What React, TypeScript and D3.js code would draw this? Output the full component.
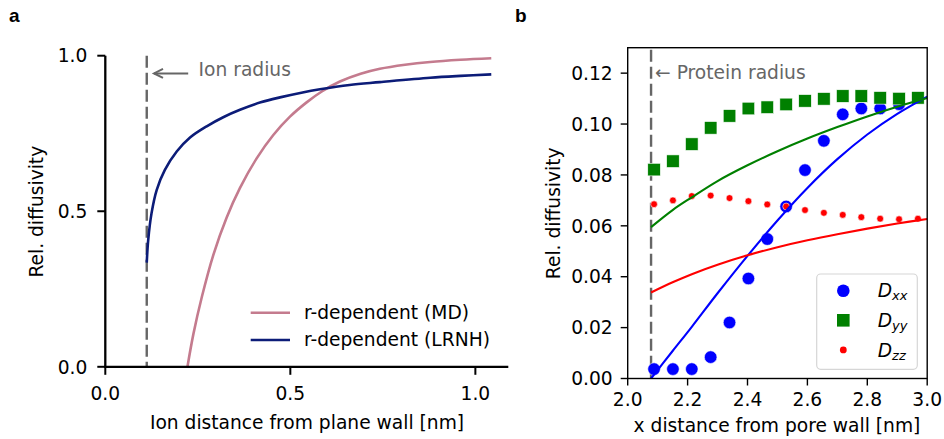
import React from "react";
import * as d3 from "d3";

// ---------- Panel a data ----------
const ionRadius = 0.112;
const mdX = [0.222, 0.238, 0.261, 0.292, 0.328, 0.364, 0.409, 0.454, 0.499, 0.544, 0.585, 0.634, 0.69, 0.742, 0.81, 0.878, 0.96, 1.043];
const mdY = [0, 0.105, 0.225, 0.36, 0.48, 0.575, 0.67, 0.745, 0.804, 0.85, 0.885, 0.917, 0.942, 0.958, 0.971, 0.98, 0.987, 0.992];
const lrnhX = [0.112, 0.116, 0.125, 0.139, 0.161, 0.193, 0.229, 0.274, 0.32, 0.364, 0.42, 0.472, 0.53, 0.58, 0.66, 0.742, 0.878, 0.96, 1.043];
const lrnhY = [0.335, 0.408, 0.494, 0.569, 0.633, 0.692, 0.737, 0.773, 0.803, 0.826, 0.85, 0.866, 0.881, 0.892, 0.906, 0.915, 0.929, 0.935, 0.94];
const aXTicks = [0, 0.5, 1.0];
const aYTicks = [0, 0.5, 1.0];
const aLegend = ["r-dependent (MD)", "r-dependent (LRNH)"];

// ---------- Panel b data ----------
const proteinRadius = 2.078;
const ptsX = [2.088, 2.151, 2.214, 2.277, 2.34, 2.403, 2.466, 2.529, 2.592, 2.655, 2.718, 2.78, 2.843, 2.906, 2.969];
const dxx = [0.0037, 0.0037, 0.0037, 0.0084, 0.022, 0.0393, 0.0548, 0.0676, 0.0819, 0.0934, 0.1038, 0.1061, 0.1061, 0.1078];
const dyy = [0.0821, 0.0854, 0.0921, 0.0985, 0.1032, 0.1061, 0.1066, 0.1077, 0.1091, 0.1099, 0.111, 0.111, 0.1103, 0.11, 0.1103];
const dzz = [0.0685, 0.07, 0.0717, 0.0719, 0.0709, 0.0697, 0.0684, 0.0676, 0.0662, 0.0651, 0.0643, 0.0634, 0.0628, 0.0626, 0.0628];
const fitX = [2.078, 2.15, 2.214, 2.3, 2.4, 2.5, 2.6, 2.7, 2.8, 2.9, 3.0];
const fitXX = [0.0, 0.0108, 0.0203, 0.0335, 0.0482, 0.0621, 0.0749, 0.0862, 0.0959, 0.104, 0.1108];
const fitYY = [0.0595, 0.0662, 0.0712, 0.0776, 0.0838, 0.0893, 0.0943, 0.0988, 0.103, 0.1068, 0.1102];
const fitZZ = [0.0338, 0.0378, 0.041, 0.0447, 0.0484, 0.0516, 0.0543, 0.0567, 0.0589, 0.0609, 0.0627];
const bXTicks = [2.0, 2.2, 2.4, 2.6, 2.8, 3.0];
const bYTicks = [0, 0.02, 0.04, 0.06, 0.08, 0.1, 0.12];
const bLegend = [
  { sub: "xx", color: "#0000ff", shape: "circle" },
  { sub: "yy", color: "#008000", shape: "square" },
  { sub: "zz", color: "#ff0000", shape: "dot" },
];

const FONT = "DejaVu Sans, sans-serif";
const FS = 18.67;
const PINK = "#c47b8e";
const NAVY = "#0c1c78";
const GRAY = "#666666";

export default function App() {
  // Panel a scales
  const xA = d3.scaleLinear().domain([0, 1.089]).range([105.3, 508.3]);
  const yA = d3.scaleLinear().domain([0, 1]).range([366.8, 55.7]);
  const lineA = d3
    .line<[number, number]>()
    .x((d) => xA(d[0]))
    .y((d) => yA(d[1]))
    .curve(d3.curveCatmullRom.alpha(0.5));
  const mdPts = mdX.map((x, i) => [x, mdY[i]] as [number, number]);
  const lrPts = lrnhX.map((x, i) => [x, lrnhY[i]] as [number, number]);

  // Panel b scales
  const xB = d3.scaleLinear().domain([2, 3]).range([627.7, 927.2]);
  const yB = d3.scaleLinear().domain([0, 0.13]).range([378.5, 47.7]);
  const lineB = d3
    .line<[number, number]>()
    .x((d) => xB(d[0]))
    .y((d) => yB(d[1]))
    .curve(d3.curveCatmullRom.alpha(0.5));
  const fits = [
    { ys: fitXX, color: "#0000ff" },
    { ys: fitYY, color: "#008000" },
    { ys: fitZZ, color: "#ff0000" },
  ];

  const fmt1 = d3.format(".1f");
  const fmt2 = d3.format(".2f");

  return (
    <svg
      width={944}
      height={439}
      style={{ position: "absolute", left: 0, top: 0, background: "#fff" }}
      fontFamily={FONT}
    >
      <defs>
        <clipPath id="clipA">
          <rect x={xA(0)} y={yA(1) - 5} width={xA(1.089) - xA(0)} height={yA(0) - yA(1) + 5} />
        </clipPath>
        <clipPath id="clipB">
          <rect x={xB(2)} y={yB(0.13)} width={xB(3) - xB(2)} height={yB(0) - yB(0.13)} />
        </clipPath>
      </defs>

      {/* Panel letters */}
      <text x={9} y={22} fontFamily="Liberation Sans, Arial, sans-serif" fontWeight="bold" fontSize={19}>a</text>
      <text x={515} y={22} fontFamily="Liberation Sans, Arial, sans-serif" fontWeight="bold" fontSize={19}>b</text>

      {/* ================= Panel a ================= */}
      <line x1={xA(ionRadius)} x2={xA(ionRadius)} y1={yA(1)} y2={yA(0)} stroke={GRAY} strokeWidth={2.4} strokeDasharray="12,5" />
      <g clipPath="url(#clipA)">
        <path d={lineA(mdPts) || ""} fill="none" stroke={PINK} strokeWidth={2.6} />
        <path d={lineA(lrPts) || ""} fill="none" stroke={NAVY} strokeWidth={2.6} />
      </g>
      {/* annotation arrow */}
      <g stroke={GRAY} strokeWidth={2} fill="none">
        <line x1={xA(0.224)} x2={xA(0.1316)} y1={yA(0.943)} y2={yA(0.943)} />
        <polyline
          points={`${xA(0.1316) + 9},${yA(0.943) - 4.5} ${xA(0.1316)},${yA(0.943)} ${xA(0.1316) + 9},${yA(0.943) + 4.5}`}
        />
      </g>
      <text x={xA(0.252)} y={yA(0.936)} fill={GRAY} fontSize={FS}>Ion radius</text>

      {/* axes a */}
      <line x1={xA(0)} x2={xA(0)} y1={yA(1)} y2={yA(0) + 1.1} stroke="#000" strokeWidth={2.3} />
      <line x1={xA(0) - 1.1} x2={xA(1.089)} y1={yA(0)} y2={yA(0)} stroke="#000" strokeWidth={2.3} />
      {aYTicks.map((t) => (
        <g key={"ay" + t}>
          <line x1={xA(0) - 8} x2={xA(0)} y1={yA(t)} y2={yA(t)} stroke="#000" strokeWidth={2} />
          <text x={xA(0) - 18} y={yA(t)} dy="0.36em" textAnchor="end" fontSize={FS}>{fmt1(t)}</text>
        </g>
      ))}
      {aXTicks.map((t) => (
        <g key={"ax" + t}>
          <line x1={xA(t)} x2={xA(t)} y1={yA(0)} y2={yA(0) + 8} stroke="#000" strokeWidth={2} />
          <text x={xA(t)} y={400} textAnchor="middle" fontSize={FS}>{fmt1(t)}</text>
        </g>
      ))}
      <text x={307} y={429} textAnchor="middle" fontSize={FS}>Ion distance from plane wall [nm]</text>
      <text transform="translate(43,211.7) rotate(-90)" textAnchor="middle" fontSize={FS}>Rel. diffusivity</text>

      {/* legend a */}
      {aLegend.map((lab, i) => (
        <g key={lab}>
          <line x1={250.7} x2={290} y1={312.7 + i * 27.3} y2={312.7 + i * 27.3} stroke={i === 0 ? PINK : NAVY} strokeWidth={2.6} />
          <text x={304} y={319 + i * 27.3} fontSize={FS}>{lab}</text>
        </g>
      ))}

      {/* ================= Panel b ================= */}
      <line x1={xB(proteinRadius)} x2={xB(proteinRadius)} y1={yB(0.13) + 2} y2={yB(0)} stroke={GRAY} strokeWidth={2.4} strokeDasharray="12,5" />
      <g clipPath="url(#clipB)">
        {ptsX.slice(0, dxx.length).map((x, i) => (
          <circle key={"xx" + i} cx={xB(x)} cy={yB(dxx[i])} r={6.3} fill="#0000ff" stroke="#fff" strokeWidth={0.6} />
        ))}
        {ptsX.map((x, i) => (
          <rect key={"yy" + i} x={xB(x) - 6.3} y={yB(dyy[i]) - 6.3} width={12.6} height={12.6} fill="#008000" stroke="#fff" strokeWidth={0.6} />
        ))}
        {ptsX.map((x, i) => (
          <circle key={"zz" + i} cx={xB(x)} cy={yB(dzz[i])} r={3.4} fill="#ff0000" stroke="#fff" strokeWidth={0.6} />
        ))}
        {fits.map((f) => (
          <path
            key={f.color}
            d={lineB(fitX.map((x, i) => [x, f.ys[i]] as [number, number])) || ""}
            fill="none"
            stroke={f.color}
            strokeWidth={2.1}
          />
        ))}
      </g>
      <text x={xB(2.0915)} y={yB(0.1177)} fill={GRAY} fontSize={FS}>← Protein radius</text>

      {/* legend b */}
      <rect x={816.7} y={274} width={100.6} height={95.3} rx={4} fill="#fff" fillOpacity={0.8} stroke="#d6d6d6" strokeWidth={1.2} />
      {bLegend.map((l, i) => {
        const cy = 290.7 + i * 29.6;
        return (
          <g key={l.sub}>
            {l.shape === "circle" && <circle cx={843.3} cy={cy} r={6.3} fill={l.color} />}
            {l.shape === "square" && <rect x={843.3 - 6.3} y={cy - 6.3} width={12.6} height={12.6} fill={l.color} />}
            {l.shape === "dot" && <circle cx={843.3} cy={cy} r={3.4} fill={l.color} />}
            <text x={877.7} y={cy + 6.6} fontSize={FS} fontStyle="italic">
              D<tspan fontSize={13} dy={3}>{l.sub}</tspan>
            </text>
          </g>
        );
      })}

      {/* axes b frame */}
      <rect x={xB(2)} y={yB(0.13)} width={xB(3) - xB(2)} height={yB(0) - yB(0.13)} fill="none" stroke="#000" strokeWidth={1.4} />
      {bYTicks.map((t) => (
        <g key={"by" + t}>
          <line x1={xB(2) - 7} x2={xB(2)} y1={yB(t)} y2={yB(t)} stroke="#000" strokeWidth={1.4} />
          <text x={612.7} y={yB(t)} dy="0.36em" textAnchor="end" fontSize={FS}>{fmt2(t)}</text>
        </g>
      ))}
      {bXTicks.map((t) => (
        <g key={"bx" + t}>
          <line x1={xB(t)} x2={xB(t)} y1={yB(0)} y2={yB(0) + 7} stroke="#000" strokeWidth={1.4} />
          <text x={xB(t)} y={406} textAnchor="middle" fontSize={FS}>{fmt1(t)}</text>
        </g>
      ))}
      <text x={777} y={432} textAnchor="middle" fontSize={FS}>x distance from pore wall [nm]</text>
      <text transform="translate(560,213.3) rotate(-90)" textAnchor="middle" fontSize={FS}>Rel. diffusivity</text>
    </svg>
  );
}
